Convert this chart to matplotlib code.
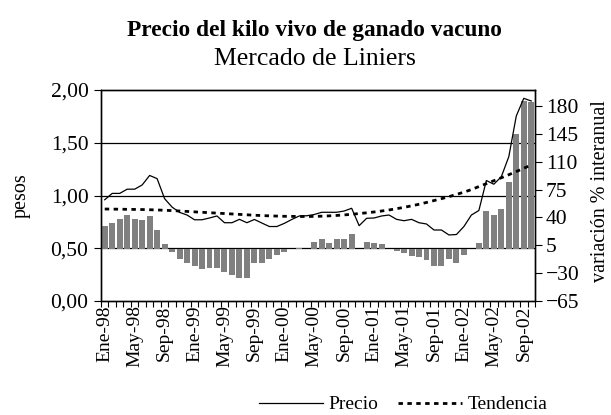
import numpy as np
import matplotlib
matplotlib.use("Agg")
import matplotlib.pyplot as plt

plt.rcParams['font.family'] = ['Liberation Serif', 'DejaVu Serif']

# precio mensual del kilo vivo, Ene-98 a Oct-02 (pesos)
precio = [0.96, 1.02, 1.02, 1.06, 1.06, 1.10, 1.19, 1.16, 0.97, 0.89,
          0.84, 0.815, 0.77, 0.77, 0.787, 0.806, 0.742, 0.742, 0.774, 0.742,
          0.773, 0.739, 0.706, 0.706, 0.736, 0.773, 0.806, 0.808, 0.82, 0.841,
          0.841, 0.841, 0.853, 0.879, 0.714, 0.784, 0.787, 0.806, 0.815, 0.774,
          0.761, 0.774, 0.742, 0.73, 0.673, 0.673, 0.626, 0.63, 0.706, 0.815,
          0.858, 1.142, 1.107, 1.178, 1.368, 1.754, 1.921, 1.896]

tendencia = [0.872, 0.871, 0.870, 0.869, 0.868, 0.867, 0.865, 0.863, 0.860, 0.857,
             0.853, 0.849, 0.845, 0.841, 0.837, 0.833, 0.829, 0.825, 0.821, 0.817,
             0.813, 0.810, 0.807, 0.805, 0.803, 0.802, 0.801, 0.801, 0.802, 0.804,
             0.807, 0.811, 0.816, 0.822, 0.829, 0.836, 0.844, 0.853, 0.863, 0.875,
             0.888, 0.902, 0.917, 0.934, 0.952, 0.970, 0.989, 1.010, 1.032, 1.056,
             1.085, 1.112, 1.140, 1.168, 1.197, 1.227, 1.258, 1.290]

# variacion % interanual
variacion = [29.2, 33.4, 38.0, 43.0, 38.0, 36.8, 41.8, 24.2, 6.6, -3.1,
             -11.9, -16.9, -20.8, -25.4, -23.2, -23.2, -28.2, -32.3, -35.7, -35.7,
             -17.9, -17.9, -12.6, -7.8, -3.1, 0.3, 1.5, 0.5, 9.0, 12.6,
             7.5, 12.5, 12.5, 19.2, 0.5, 8.7, 7.5, 6.2, 0.3, -2.5,
             -4.6, -8.0, -9.3, -13.5, -21.0, -21.0, -12.0, -17.6, -7.5, 0.3,
             7.8, 48.1, 43.0, 50.6, 84.9, 144.6, 186.4, 185.0]

etiquetas = ['Ene-98', 'May-98', 'Sep-98', 'Ene-99', 'May-99', 'Sep-99',
             'Ene-00', 'May-00', 'Sep-00', 'Ene-01', 'May-01', 'Sep-01',
             'Ene-02', 'May-02', 'Sep-02']

n = len(precio)
x = np.arange(n)

fig = plt.figure(figsize=(6.11, 4.15), dpi=100)
ax = fig.add_axes([0.1653, 0.2747, 0.7103, 0.5084])

# eje izquierdo: grilla y pesos
ax.set_xlim(-0.5, n - 0.5)
ax.set_ylim(0, 2)
ax.set_yticks([0, 0.5, 1.0, 1.5, 2.0])
ax.set_yticklabels(['0,00', '0,50', '1,00', '1,50', '2,00'], fontsize=15.5)
for v in [0.5, 1.0, 1.5]:
    ax.axhline(v, color='black', lw=0.9)
ax.set_xticks(x[::4])
ax.set_xticklabels(etiquetas, rotation=90, fontsize=14)
ax.set_xticks(np.arange(-0.5, n, 1), minor=True)
ax.tick_params(axis='x', which='major', length=0, pad=3)
ax.tick_params(axis='x', which='minor', length=4, direction='out', width=0.8)
ax.tick_params(axis='y', length=5, width=0.8, pad=4)
ax.set_ylabel('pesos', fontsize=14.5)
ax.yaxis.set_label_coords(-0.163, 0.5)

# eje derecho: barras
ax2 = ax.twinx()
ax2.bar(x, variacion, width=0.8, color='#808080', edgecolor='none')
ax2.set_ylim(-65, 200)
ax2.set_yticks(np.arange(-65, 181, 35))
ax2.tick_params(axis='y', length=5, width=0.8, labelsize=15.5, pad=3)
ax2.set_ylabel('variación % interanual', fontsize=14.5)
ax2.yaxis.set_label_coords(1.128, 0.52)

# lineas arriba
ax3 = ax.twinx()
ax3.set_ylim(0, 2)
ax3.set_yticks([])
l1, = ax3.plot(x, precio, color='black', lw=0.9, label='Precio')
l2, = ax3.plot(x, tendencia, color='black', lw=2.0, linestyle=(0, (1.6, 1.6)),
               label='Tendencia')

for a in (ax, ax2, ax3):
    for s in a.spines.values():
        s.set_linewidth(0.9)

fig.text(0.515, 0.926, 'Precio del kilo vivo de ganado vacuno', ha='center',
         va='center', fontsize=16.8, fontweight='bold')
fig.text(0.515, 0.858, 'Mercado de Liniers', ha='center', va='center', fontsize=18.5)

fig.legend(handles=[l1, l2], loc='center', bbox_to_anchor=(0.66, 0.025), ncol=2,
           frameon=False, fontsize=14, handlelength=3.3, columnspacing=1.0,
           handletextpad=0.3)

fig.savefig('out.png', dpi=100)
